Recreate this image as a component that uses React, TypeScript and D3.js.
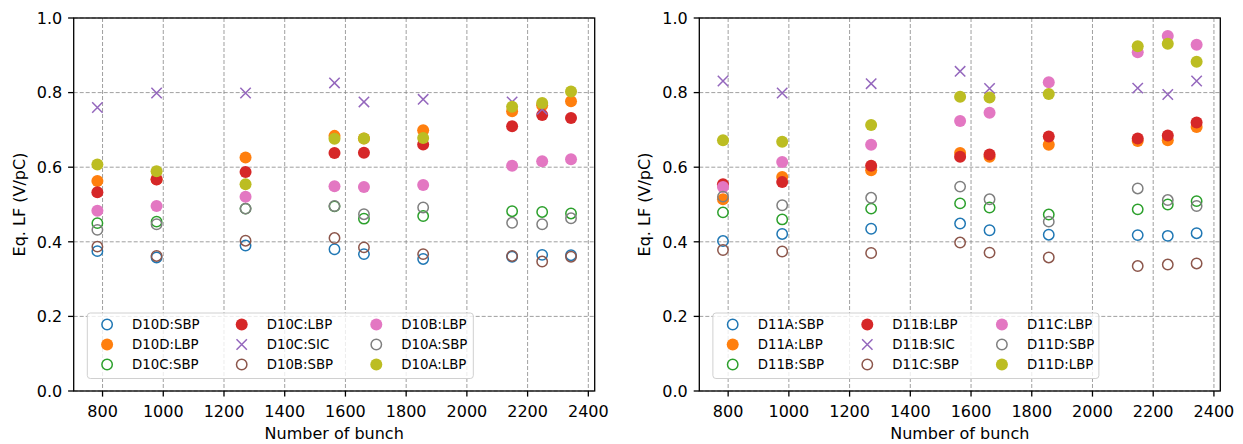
import React from "react";
import * as d3 from "d3";

// bunch counts (shared by both panels)
const bunches = [783, 978, 1271, 1564, 1661, 1856, 2149, 2248, 2343];

// left panel (D10)
const d10dSBP = [0.375, 0.358, 0.39, 0.38, 0.367, 0.354, 0.36, 0.365, 0.364];
const d10dLBP = [0.563, 0.568, 0.626, 0.684, 0.677, 0.699, 0.75, 0.766, 0.777];
const d10cSBP = [0.45, 0.454, 0.489, 0.495, 0.462, 0.469, 0.482, 0.48, 0.476];
const d10cLBP = [0.533, 0.567, 0.587, 0.638, 0.639, 0.661, 0.71, 0.74, 0.732];
const d10cSIC = [0.76, 0.799, 0.799, 0.826, 0.775, 0.782, 0.775, 0.755, null];
const d10bSBP = [0.387, 0.362, 0.403, 0.41, 0.385, 0.367, 0.362, 0.347, 0.36];
const d10bLBP = [0.483, 0.496, 0.521, 0.549, 0.547, 0.552, 0.604, 0.616, 0.621];
const d10aSBP = [0.432, 0.447, 0.489, 0.496, 0.474, 0.492, 0.451, 0.447, 0.463];
const d10aLBP = [0.607, 0.589, 0.554, 0.676, 0.677, 0.678, 0.762, 0.772, 0.803];

// right panel (D11)
const d11aSBP = [0.402, 0.421, 0.435, 0.449, 0.431, 0.419, 0.418, 0.416, 0.423];
const d11aLBP = [0.514, 0.574, 0.592, 0.638, 0.628, 0.66, 0.67, 0.672, 0.708];
const d11bSBP = [0.479, 0.46, 0.489, 0.503, 0.492, 0.473, 0.487, 0.5, 0.509];
const d11bLBP = [0.554, 0.56, 0.604, 0.628, 0.634, 0.682, 0.677, 0.685, 0.72];
const d11bSIC = [0.831, 0.799, 0.824, 0.857, 0.811, null, 0.812, 0.795, 0.831];
const d11cSBP = [0.378, 0.374, 0.37, 0.398, 0.371, 0.358, 0.335, 0.339, 0.342];
const d11cLBP = [0.547, 0.614, 0.66, 0.724, 0.746, 0.828, 0.908, 0.952, 0.928];
const d11dSBP = [0.521, 0.498, 0.518, 0.548, 0.514, 0.454, 0.543, 0.512, 0.496];
const d11dLBP = [0.672, 0.668, 0.713, 0.789, 0.787, 0.796, 0.924, 0.931, 0.883];

const xTicks = [800, 1000, 1200, 1400, 1600, 1800, 2000, 2200, 2400];
const yTicks = [0, 0.2, 0.4, 0.6, 0.8, 1.0];

const tab = d3.schemeCategory10;
const kinds = ["open", "filled", "open", "filled", "x", "open", "filled", "open", "filled"];

const leftSeries = [
  ["D10D:SBP", d10dSBP], ["D10D:LBP", d10dLBP], ["D10C:SBP", d10cSBP],
  ["D10C:LBP", d10cLBP], ["D10C:SIC", d10cSIC], ["D10B:SBP", d10bSBP],
  ["D10B:LBP", d10bLBP], ["D10A:SBP", d10aSBP], ["D10A:LBP", d10aLBP],
];
const rightSeries = [
  ["D11A:SBP", d11aSBP], ["D11A:LBP", d11aLBP], ["D11B:SBP", d11bSBP],
  ["D11B:LBP", d11bLBP], ["D11B:SIC", d11bSIC], ["D11C:SBP", d11cSBP],
  ["D11C:LBP", d11cLBP], ["D11D:SBP", d11dSBP], ["D11D:LBP", d11dLBP],
];

const W = 1243, H = 444;
const top = 18, bottom = 391, plotW = 521;
const font = "'DejaVu Sans', sans-serif";

const Marker = ({ kind, color, x, y }) => {
  if (kind === "filled") return <circle cx={x} cy={y} r={6} fill={color} />;
  if (kind === "open")
    return <circle cx={x} cy={y} r={5.2} fill="none" stroke={color} strokeWidth={1.5} />;
  const s = 5.2;
  return (
    <path d={`M${x - s},${y - s}L${x + s},${y + s}M${x - s},${y + s}L${x + s},${y - s}`}
      stroke={color} strokeWidth={1.5} fill="none" />
  );
};

const Panel = ({ left, series }) => {
  const [lo, hi] = d3.extent(bunches);
  const pad = (hi - lo) * 0.05;
  const x = d3.scaleLinear().domain([lo - pad, hi + pad]).range([left, left + plotW]);
  const y = d3.scaleLinear().domain([0, 1]).range([bottom, top]);
  const right = left + plotW;
  const lgX = left + 13.6, lgY = 313;

  return (
    <g>
      {/* grid */}
      {xTicks.map(t => (
        <line key={"gx" + t} x1={x(t)} x2={x(t)} y1={top} y2={bottom}
          stroke="#888" strokeWidth={0.8} strokeDasharray="4,2" />
      ))}
      {yTicks.map(t => (
        <line key={"gy" + t} x1={left} x2={right} y1={y(t)} y2={y(t)}
          stroke="#888" strokeWidth={0.8} strokeDasharray="4,2" />
      ))}

      {/* points */}
      {series.map(([name, vals], i) => (
        <g key={name}>
          {vals.map((v, j) => v == null ? null : (
            <Marker key={j} kind={kinds[i]} color={tab[i]} x={x(bunches[j])} y={y(v)} />
          ))}
        </g>
      ))}

      {/* legend */}
      <rect x={lgX} y={lgY} width={386} height={65.5} rx={3}
        fill="white" fillOpacity={0.8} stroke="#d0d0d0" strokeWidth={1} />
      {series.map(([name], i) => {
        const col = Math.floor(i / 3), row = i % 3;
        const mx = lgX + 19.8 + col * 134.6;
        const my = lgY + 11.5 + row * 20;
        return (
          <g key={"lg" + name}>
            <Marker kind={kinds[i]} color={tab[i]} x={mx} y={my} />
            <text x={mx + 25} y={my + 4.8} fontSize={13.3} fontFamily={font} fill="#000">{name}</text>
          </g>
        );
      })}

      {/* spines */}
      <rect x={left} y={top} width={plotW} height={bottom - top} fill="none" stroke="#000" strokeWidth={1.3} />

      {/* x axis */}
      {xTicks.map(t => (
        <g key={"xt" + t}>
          <line x1={x(t)} x2={x(t)} y1={bottom} y2={bottom + 5.6} stroke="#000" strokeWidth={1.3} />
          <text x={x(t)} y={bottom + 25.5} textAnchor="middle" fontSize={16} fontFamily={font}>{t}</text>
        </g>
      ))}
      <text x={left + plotW / 2} y={439} textAnchor="middle" fontSize={16} fontFamily={font}>Number of bunch</text>

      {/* y axis */}
      {yTicks.map(t => (
        <g key={"yt" + t}>
          <line x1={left - 5.6} x2={left} y1={y(t)} y2={y(t)} stroke="#000" strokeWidth={1.3} />
          <text x={left - 11.5} y={y(t) + 5.8} textAnchor="end" fontSize={16} fontFamily={font}>{t.toFixed(1)}</text>
        </g>
      ))}
      <text transform={`translate(${left - 49},${(top + bottom) / 2}) rotate(-90)`} textAnchor="middle"
        fontSize={16} fontFamily={font}>Eq. LF (V/pC)</text>
    </g>
  );
};

export default function App() {
  return (
    <svg width={W} height={H} style={{ position: "absolute", left: 0, top: 0, background: "white" }}>
      <Panel left={73.7} series={leftSeries} />
      <Panel left={699.3} series={rightSeries} />
    </svg>
  );
}
